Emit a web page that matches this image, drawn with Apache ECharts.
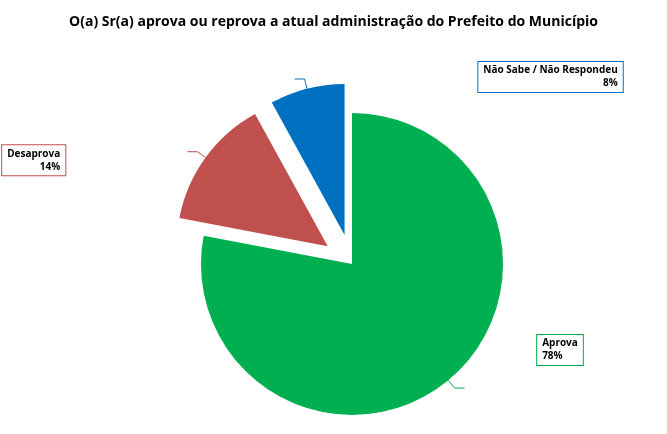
<!DOCTYPE html>
<html><head><meta charset="utf-8">
<script src="https://cdn.jsdelivr.net/npm/echarts@6/dist/echarts.min.js"></script>
<style>html,body{margin:0;background:#fff}#c{width:667px;height:434px}</style>
</head><body><div id="c"></div>
<script>
const categories = ['Aprova', 'Desaprova', 'Não Sabe / Não Respondeu'];
const values = [78, 14, 8];
const colors = ['#00B050', '#C0504D', '#0070C0'];
const labelPos = [[560, 350], [58, 178], [558, 106]];
const chart = echarts.init(document.getElementById('c'));
chart.setOption({
  animation: false,
  title: {text: 'O(a) Sr(a) aprova ou reprova a atual administração do Prefeito do Município', left: 'center', top: 10,
    textStyle: {fontSize: 14, fontWeight: 'bold', color: '#000', fontFamily: 'Open Sans'}},
  series: [{
    type: 'pie', center: [352, 264], radius: 151, startAngle: 90, clockwise: true,
    selectedMode: 'multiple', selectedOffset: 30,
    data: categories.map((n, i) => ({name: n, value: values[i], selected: i > 0,
      itemStyle: {color: colors[i]},
      label: {borderColor: colors[i]}, labelLine: {lineStyle: {color: colors[i]}}})),
    label: {show: true, formatter: '{b}\n{d}%', fontSize: 10, fontWeight: 'bold', color: '#000',
      fontFamily: 'Open Sans', align: 'center', lineHeight: 13,
      backgroundColor: '#fff', borderWidth: 1, padding: [2, 5]},
    labelLine: {show: true, length: 10, length2: 10, lineStyle: {width: 1}},
    labelLayout: p => {
      const r = p.labelRect, t = labelPos[p.dataIndex];
      return {dx: t[0] - (r.x + r.width / 2), dy: t[1] - (r.y + r.height / 2)};
    }
  }]
});
</script></body></html>
